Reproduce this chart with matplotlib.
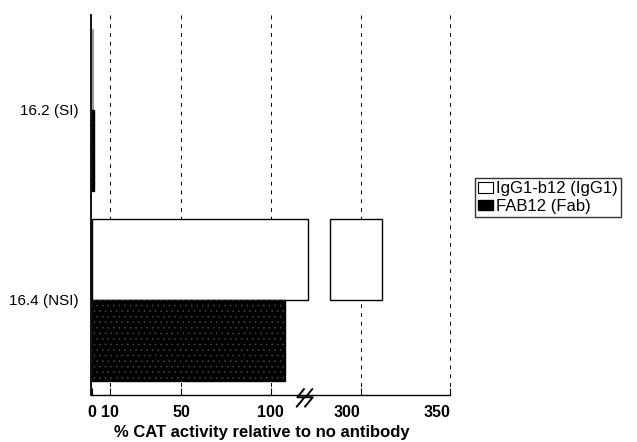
import numpy as np
import matplotlib
matplotlib.use("Agg")
import matplotlib.pyplot as plt
from matplotlib.path import Path
from matplotlib.transforms import blended_transform_factory

plt.rcParams['font.family'] = ['Liberation Sans', 'DejaVu Sans']
plt.rcParams['hatch.linewidth'] = 0.4

# ---- data -------------------------------------------------------------
isolates = ["16.2 (SI)", "16.4 (NSI)"]
series_names = ["IgG1-b12 (IgG1)", "FAB12 (Fab)"]
igg1_values = [0.6, 312]
fab_values = [1.0, 108]
tick_values = [0, 10, 50, 100, 300, 350]
tick_labels = ["0", "10", "50", "100", "300", "350"]

# axis break: 121..283 squeezed into a short stretch
BREAK_LO, BREAK_HI = 121.0, 283.0
SQUEEZED = 12.5


def fwd(x):
    x = np.asarray(x, dtype=float)
    mid = BREAK_LO + (x - BREAK_LO) * (SQUEEZED / (BREAK_HI - BREAK_LO))
    hi = x - (BREAK_HI - BREAK_LO) + SQUEEZED
    return np.where(x <= BREAK_LO, x, np.where(x >= BREAK_HI, hi, mid))


def inv(u):
    u = np.asarray(u, dtype=float)
    top = BREAK_LO + SQUEEZED
    mid = BREAK_LO + (u - BREAK_LO) * ((BREAK_HI - BREAK_LO) / SQUEEZED)
    hi = u + (BREAK_HI - BREAK_LO) - SQUEEZED
    return np.where(u <= BREAK_LO, u, np.where(u >= top, hi, mid))


fig = plt.figure(figsize=(6.37, 4.42), dpi=100)
ax = fig.add_axes([91 / 637, 1 - 395 / 442, 359 / 637, 380 / 442])
ax.set_xscale('function', functions=(fwd, inv))
ax.set_xlim(-0.5, 350)
ax.set_ylim(1.5, -0.5)

y = np.arange(len(isolates))
h = 0.426

# dashed reference lines at the labelled ticks
grid_x = [v for v in tick_values if v > 0]
ax.vlines(grid_x, -0.5, 1.5, colors='black', linestyles=(0, (4, 5)),
          linewidth=0.7, zorder=1, clip_on=False)

# IgG1 bars (drawn in two pieces when they cross the axis break)
for yi, v in zip(y, igg1_values):
    if v > BREAK_HI:
        ax.barh(yi - h / 2, BREAK_LO, height=h, left=0, color='white',
                edgecolor='black', linewidth=1.0, zorder=3)
        ax.barh(yi - h / 2, v - BREAK_HI, height=h, left=BREAK_HI,
                color='white', edgecolor='black', linewidth=1.0, zorder=3)
    else:
        ax.barh(yi - h / 2, v, height=h, left=0, color='white',
                edgecolor='#999999', linewidth=0.8, zorder=3)

# Fab bars: black with fine light speckle
ax.barh(y + h / 2, fab_values, height=h, left=0, color='black',
        edgecolor='black', linewidth=1.0, zorder=3)
ax.barh(y + h / 2, fab_values, height=h, left=0, fill=False,
        hatch='...', edgecolor='#4a4a4a', linewidth=0, zorder=4)

# spines and ticks
for side in ('top', 'right'):
    ax.spines[side].set_visible(False)
ax.spines['left'].set_linewidth(1.3)
ax.spines['bottom'].set_linewidth(1.0)
ax.spines['left'].set_zorder(5)

ax.set_xticks(tick_values)
ax.set_xticklabels(tick_labels, fontsize=11.5, fontweight='bold')
for lab, v in zip(ax.get_xticklabels(), tick_values):
    if v > BREAK_HI:
        lab.set_horizontalalignment('right')
ax.xaxis.set_minor_locator(matplotlib.ticker.NullLocator())
ax.tick_params(axis='x', direction='in', length=5, width=0.8, pad=7)

ax.set_yticks(y)
ax.set_yticklabels(isolates, fontsize=11)
ax.tick_params(axis='y', length=0, pad=9)

ax.set_xlabel("% CAT activity relative to no antibody", fontsize=12,
              fontweight='bold')
ax.xaxis.set_label_coords((262 - 91) / 359, -0.098)
ax.xaxis.label.set_verticalalignment('center')

# break symbol (two lightning-bolt strokes) on the x axis
bolt = Path([(0, 6), (-6, -1.5), (0, -1.5), (-7, -10),
             (7, 6), (1, -1.5), (7, -1.5), (0, -10)],
            [Path.MOVETO, Path.LINETO, Path.LINETO, Path.LINETO,
             Path.MOVETO, Path.LINETO, Path.LINETO, Path.LINETO])
btrans = blended_transform_factory(ax.transData, ax.transAxes)
ax.plot([BREAK_LO - 2], [0], marker=bolt, markersize=17, color='black',
        markerfacecolor='none', markeredgewidth=1.4, transform=btrans,
        clip_on=False, zorder=6)

# legend
handles = [plt.Rectangle((0, 0), 1, 1, facecolor='white', edgecolor='black',
                         linewidth=0.8),
           plt.Rectangle((0, 0), 1, 1, facecolor='black', edgecolor='black')]
leg = fig.legend(handles, series_names, loc='upper left',
                 bbox_to_anchor=(475 / 637, 1 - 178 / 442), fontsize=12,
                 frameon=True, fancybox=False, handlelength=0.9,
                 handleheight=0.6, handletextpad=0.15, borderpad=0.2,
                 labelspacing=0.15, borderaxespad=0)
leg.get_frame().set_edgecolor('black')
leg.get_frame().set_linewidth(1.0)

fig.savefig("out.png", dpi=100)
